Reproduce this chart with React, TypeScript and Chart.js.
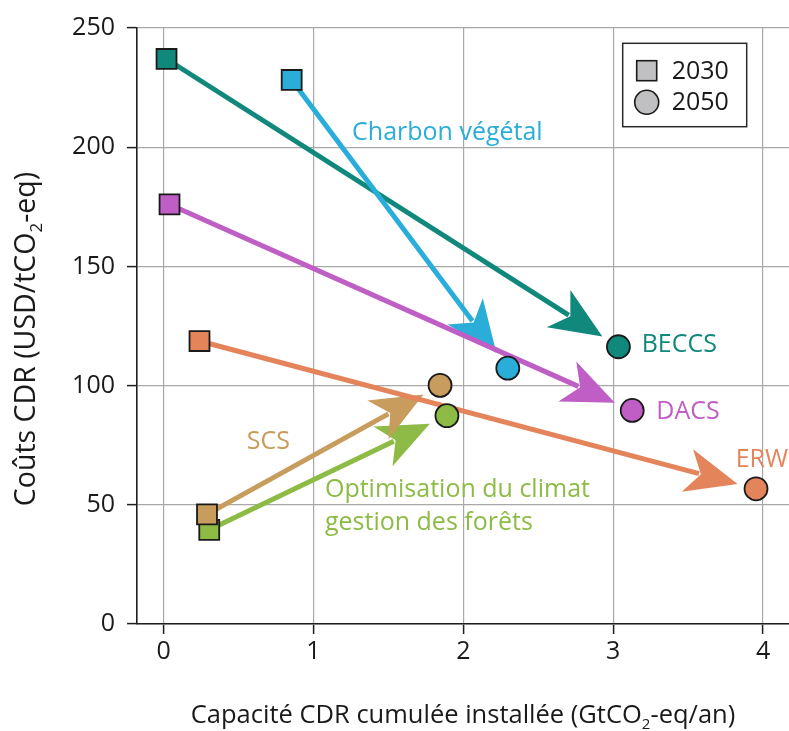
import React, { useEffect, useRef } from "react";
import { Chart, registerables } from "chart.js";

Chart.register(...registerables);

// ---------- data ----------
const technologies = ["BECCS", "Charbon végétal", "DACS", "Optimisation du climat / gestion des forêts", "SCS", "ERW"];
const capacity2030 = [0.02, 0.855, 0.04, 0.305, 0.29, 0.24];
const cost2030 = [237, 228.2, 176, 39.5, 46, 118.7];
const capacity2050 = [3.035, 2.297, 3.127, 1.891, 1.845, 3.953];
const cost2050 = [116.3, 107.3, 89.6, 87.4, 100.1, 56.7];
const seriesColors = ["#10897c", "#2aadd9", "#bf5ec4", "#8dbb45", "#c89c5c", "#e4845b"];

const xTicks = [0, 1, 2, 3, 4];
const yTicks = [0, 50, 100, 150, 200, 250];

const legendYears = ["2030", "2050"];

// annotation text (lines) and anchor in data units (left, baseline)
const labelLines = [["BECCS"], ["Charbon végétal"], ["DACS"], ["Optimisation du climat", "gestion des forêts"], ["SCS"], ["ERW"]];
const labelAnchorX = [3.19, 1.258, 3.288, 1.077, 0.555, 3.817];
const labelAnchorY = [114.1, 203, 86.0, 53.3, 73.4, 65.9];

const xTitleParts = [{ t: "Capacité CDR cumulée installée (GtCO" }, { t: "2", sub: true }, { t: "-eq/an)" }];
const yTitleParts = [{ t: "Coûts CDR (USD/tCO" }, { t: "2", sub: true }, { t: "-eq)" }];

// ---------- styling ----------
const FONT = "'Open Sans', 'DejaVu Sans', sans-serif";
const TEXT = "#1a1a1a";
const GRID = "#a8a8a8";
const AXIS = "#1f1f1f";
const MARKER_BORDER = "#1a1a1a";
const LEGEND_FILL = "#c0c0c2";

type Part = { t: string; sub?: boolean };

function drawRich(ctx: CanvasRenderingContext2D, parts: Part[], x: number, y: number, size: number, color: string) {
  const subSize = Math.round(size * 0.6);
  let total = 0;
  const widths = parts.map((p) => {
    ctx.font = `${p.sub ? subSize : size}px ${FONT}`;
    const w = ctx.measureText(p.t).width;
    total += w;
    return w;
  });
  let cx = x - total / 2;
  ctx.textAlign = "left";
  ctx.textBaseline = "alphabetic";
  ctx.fillStyle = color;
  parts.forEach((p, i) => {
    ctx.font = `${p.sub ? subSize : size}px ${FONT}`;
    ctx.fillText(p.t, cx, y + (p.sub ? size * 0.24 : 0));
    cx += widths[i];
  });
}

const arrowPlugin = {
  id: "arrows",
  beforeDatasetsDraw(chart: any) {
    const { ctx, scales } = chart;
    const xs = scales.x;
    const ys = scales.y;
    const L = 52, W = 22, N = 38, GAP = 19;
    ctx.save();
    technologies.forEach((_, i) => {
      const x0 = xs.getPixelForValue(capacity2030[i]);
      const y0 = ys.getPixelForValue(cost2030[i]);
      const x1 = xs.getPixelForValue(capacity2050[i]);
      const y1 = ys.getPixelForValue(cost2050[i]);
      const dx = x1 - x0, dy = y1 - y0;
      const len = Math.hypot(dx, dy);
      const ux = dx / len, uy = dy / len;
      const nx = -uy, ny = ux;
      const tx = x1 - ux * GAP, ty = y1 - uy * GAP;
      ctx.strokeStyle = seriesColors[i];
      ctx.fillStyle = seriesColors[i];
      ctx.lineWidth = 5;
      ctx.lineCap = "butt";
      ctx.beginPath();
      ctx.moveTo(x0, y0);
      ctx.lineTo(tx - ux * (N + 2), ty - uy * (N + 2));
      ctx.stroke();
      ctx.beginPath();
      ctx.moveTo(tx, ty);
      ctx.lineTo(tx - ux * L + nx * W, ty - uy * L + ny * W);
      ctx.lineTo(tx - ux * N, ty - uy * N);
      ctx.lineTo(tx - ux * L - nx * W, ty - uy * L - ny * W);
      ctx.closePath();
      ctx.fill();
    });
    ctx.restore();
  },
};

const annotationPlugin = {
  id: "annotations",
  afterDraw(chart: any) {
    const { ctx, scales, chartArea } = chart;
    const xs = scales.x;
    const ys = scales.y;
    ctx.save();
    // series labels
    ctx.font = `25px ${FONT}`;
    ctx.textAlign = "left";
    ctx.textBaseline = "alphabetic";
    labelLines.forEach((lines, i) => {
      const px = xs.getPixelForValue(labelAnchorX[i]);
      const py = ys.getPixelForValue(labelAnchorY[i]);
      ctx.fillStyle = seriesColors[i];
      lines.forEach((ln, k) => ctx.fillText(ln, px, py + k * 33));
    });

    // axis titles
    drawRich(ctx, xTitleParts, (chartArea.left + chartArea.right) / 2, 723, 25.5, TEXT);
    ctx.save();
    ctx.translate(35, (chartArea.top + chartArea.bottom) / 2 + 13);
    ctx.rotate(-Math.PI / 2);
    drawRich(ctx, yTitleParts, 0, 0, 28.5, TEXT);
    ctx.restore();

    // legend box
    const bx = chartArea.right - 166.3;
    const by = chartArea.top + 15.3;
    const bw = 124, bh = 83.4;
    ctx.lineWidth = 1.5;
    ctx.strokeStyle = "#2a2a2a";
    ctx.fillStyle = "#ffffff";
    ctx.fillRect(bx, by, bw, bh);
    ctx.strokeRect(bx, by, bw, bh);
    const mx = bx + 24;
    const rows = [by + 27.4, by + 59];
    ctx.fillStyle = LEGEND_FILL;
    ctx.strokeStyle = MARKER_BORDER;
    ctx.lineWidth = 1.6;
    ctx.fillRect(mx - 10, rows[0] - 10, 20, 20);
    ctx.strokeRect(mx - 10, rows[0] - 10, 20, 20);
    ctx.beginPath();
    ctx.arc(mx, rows[1], 12, 0, Math.PI * 2);
    ctx.fill();
    ctx.stroke();
    ctx.fillStyle = TEXT;
    ctx.font = `25px ${FONT}`;
    ctx.textAlign = "left";
    ctx.textBaseline = "middle";
    legendYears.forEach((yr, k) => ctx.fillText(yr, bx + 49, rows[k] + 1));
    ctx.restore();
  },
};

export default function App() {
  const ref = useRef<HTMLCanvasElement>(null);

  useEffect(() => {
    document.body.style.margin = "0";
    const canvas = ref.current;
    if (!canvas) return;
    const chart = new Chart(canvas, {
      type: "scatter",
      data: {
        datasets: [
          {
            label: "2030",
            data: capacity2030.map((x, i) => ({ x, y: cost2030[i] })),
            pointStyle: "rect",
            pointRadius: 14.1,
            pointHoverRadius: 14.1,
            pointBackgroundColor: seriesColors,
            pointBorderColor: MARKER_BORDER,
            pointBorderWidth: 1.8,
          },
          {
            label: "2050",
            data: capacity2050.map((x, i) => ({ x, y: cost2050[i] })),
            pointStyle: "circle",
            pointRadius: 11.5,
            pointHoverRadius: 11.5,
            pointBackgroundColor: seriesColors,
            pointBorderColor: MARKER_BORDER,
            pointBorderWidth: 1.8,
          },
        ],
      },
      options: {
        responsive: false,
        animation: false,
        devicePixelRatio: 1,
        events: [],
        layout: { autoPadding: false, padding: { top: 28, left: 0, right: 0, bottom: 0 } },
        plugins: {
          legend: { display: false },
          tooltip: { enabled: false },
          title: { display: false },
        },
        scales: {
          x: {
            type: "linear",
            min: -0.177,
            max: 4.173,
            afterBuildTicks: (s: any) => {
              s.ticks = xTicks.map((v) => ({ value: v }));
            },
            afterFit: (s: any) => {
              s.height = 107;
              s.paddingLeft = 0;
              s.paddingRight = 0;
              s.paddingTop = 0;
              s.paddingBottom = 0;
            },
            ticks: {
              color: TEXT,
              font: { family: FONT, size: 25 },
              padding: 3,
              maxRotation: 0,
              callback: (v: any) => String(v),
            },
            grid: { color: GRID, lineWidth: 1.2, tickColor: AXIS, tickLength: 10, tickWidth: 1.5 },
            border: { color: AXIS, width: 1.6 },
          },
          y: {
            type: "linear",
            min: 0,
            max: 250,
            afterBuildTicks: (s: any) => {
              s.ticks = yTicks.map((v) => ({ value: v }));
            },
            afterFit: (s: any) => {
              s.width = 137;
              s.paddingLeft = 0;
              s.paddingRight = 0;
              s.paddingTop = 0;
              s.paddingBottom = 0;
            },
            ticks: {
              color: TEXT,
              font: { family: FONT, size: 25 },
              padding: 12,
              callback: (v: any) => String(v),
            },
            grid: { color: GRID, lineWidth: 1.2, tickColor: AXIS, tickLength: 10, tickWidth: 1.5 },
            border: { color: AXIS, width: 1.6 },
          },
        },
      } as any,
      plugins: [arrowPlugin, annotationPlugin],
    });
    return () => chart.destroy();
  }, []);

  return (
    <div style={{ position: "absolute", left: 0, top: 0, width: 789, height: 731, background: "#fff" }}>
      <canvas ref={ref} width={789} height={731} style={{ display: "block", width: 789, height: 731 }} />
    </div>
  );
}
